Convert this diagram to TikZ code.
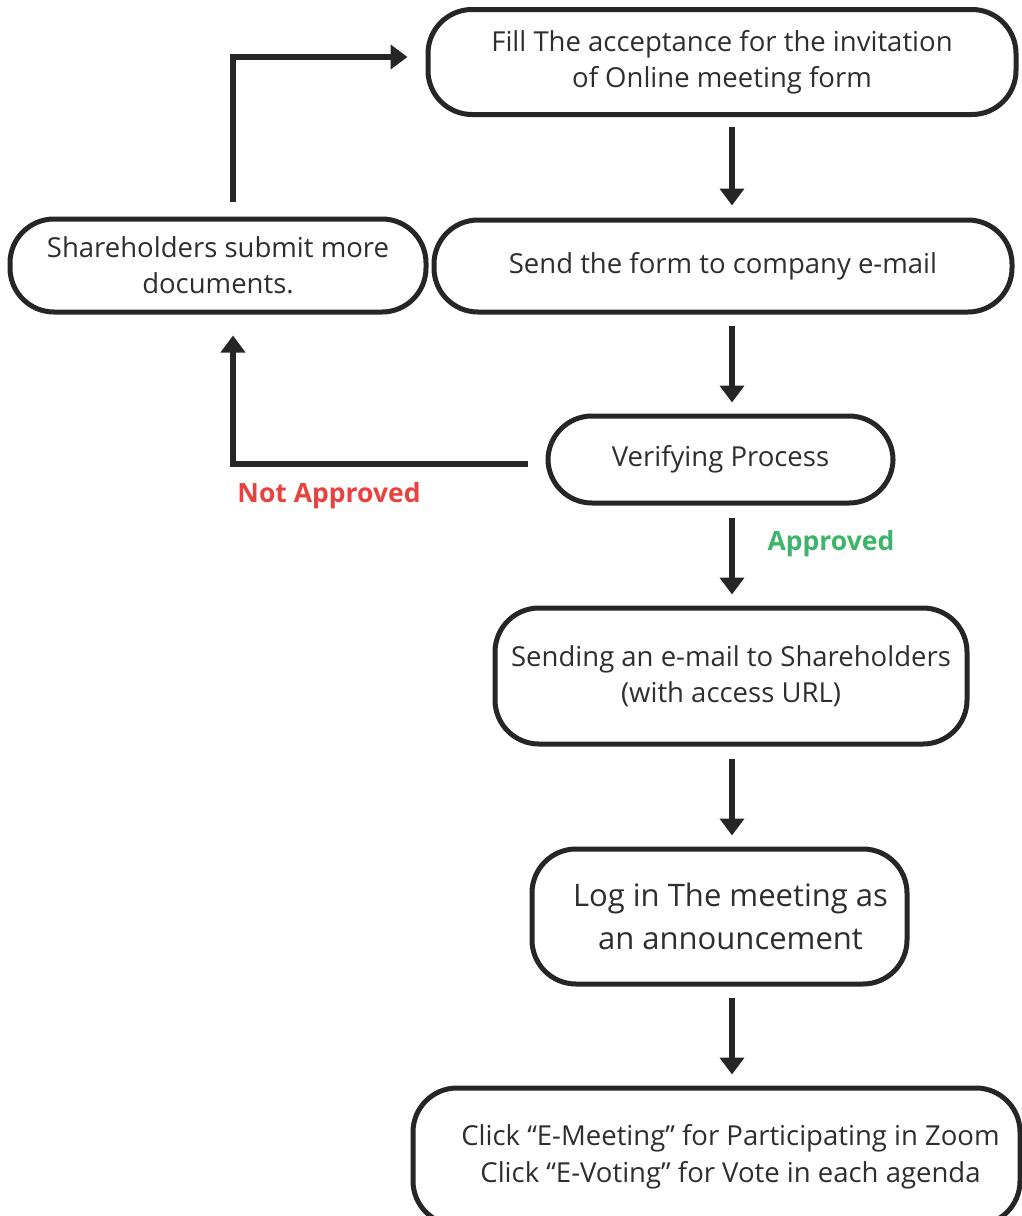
\documentclass[tikz,border=0pt]{standalone}
\usepackage{fontspec}
\setmainfont{Open Sans}
\usetikzlibrary{arrows.meta}
\definecolor{txt}{HTML}{2E2E2E}
\definecolor{redlab}{HTML}{E8423F}
\definecolor{greenlab}{HTML}{3DB46A}
\tikzset{
  box/.style={draw=black!85, line width=5pt, rounded corners=44pt, align=center, text=txt, inner sep=0pt, font=\fontsize{27.5}{36}\selectfont},
  flow/.style={line width=6pt, draw=black!85, -{Triangle[length=17pt,width=24pt]}},
  lab/.style={font=\fontsize{26.5}{30}\selectfont\bfseries}
}
\begin{document}
\begin{tikzpicture}[x=1pt,y=-1pt]
\useasboundingbox (0,0) rectangle (1022,1216);
\node[box, minimum width=588pt, minimum height=105pt] (fill) at (722,62) {Fill The acceptance for the invitation\\of Online meeting form};
\node[box, minimum width=578pt, minimum height=92pt] (send) at (723,266) {Send the form to company e-mail};
\node[box, minimum width=416pt, minimum height=93pt] (share) at (218,265.5) {Shareholders submit more\\documents.};
\node[box, minimum width=345pt, minimum height=87pt] (verify) at (720.5,459.5) {Verifying Process};
\node[box, minimum width=472pt, minimum height=136pt] (mail) at (731,676) {Sending an e-mail to Shareholders\\(with access URL)};
\node[box, minimum width=375pt, minimum height=135pt, font=\fontsize{31}{43}\selectfont] (login) at (719.5,916.5) {\hspace*{22pt}Log in The meeting as\\\hspace*{22pt}an announcement};
\node[box, minimum width=607pt, minimum height=137pt, font=\fontsize{27.5}{37}\selectfont] (click) at (716.5,1156.5) {\hspace*{28pt}Click “E-Meeting” for Participating in Zoom\\\hspace*{28pt}Click “E-Voting” for Vote in each agenda};
\coordinate (axis) at (732,0);
\coordinate (loopx) at (233,0);
\draw[flow, shorten <=10pt, shorten >=12pt] (fill.south -| axis) -- (send.north -| axis);
\draw[flow, shorten <=11pt, shorten >=11pt] (send.south -| axis) -- (verify.north -| axis);
\draw[flow, shorten <=12pt, shorten >=11pt] (verify.south -| axis) -- (mail.north -| axis);
\draw[flow, shorten <=12pt, shorten >=11pt] (mail.south -| axis) -- (login.north -| axis);
\draw[flow, shorten <=11pt, shorten >=11pt] (login.south -| axis) -- (click.north -| axis);
\draw[flow, shorten <=18pt, shorten >=21pt] ([yshift=-4pt]verify.west) -| (share.south -| loopx);
\draw[flow, shorten <=15pt, shorten >=18pt] (share.north -| loopx) |- (fill.west |- 0,57);
\node[lab, text=redlab] (notapp) at (329,496) {Not Approved};
\node[lab, text=greenlab] (app) at (831,544) {Approved};
\end{tikzpicture}
\end{document}
